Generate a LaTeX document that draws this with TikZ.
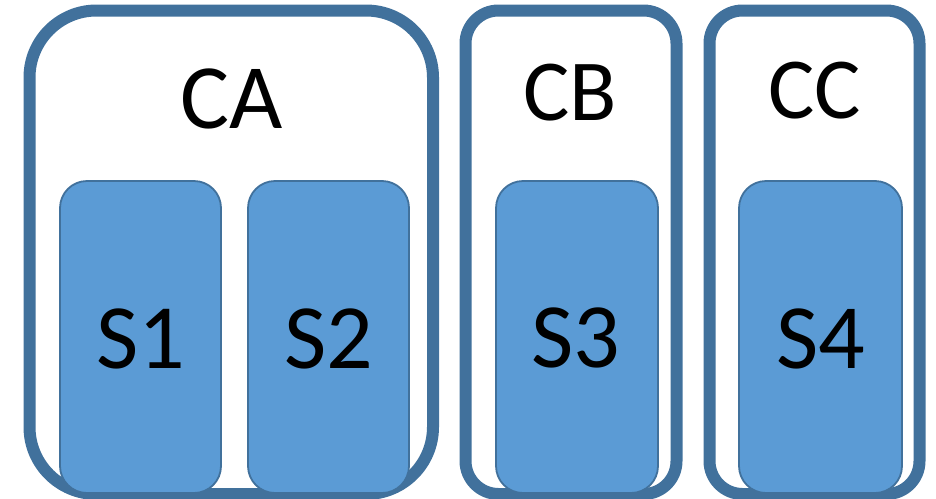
\documentclass[tikz,border=0pt]{standalone}
\usepackage{fontspec}
\setmainfont{Carlito}
\definecolor{edgeblue}{HTML}{41719C}
\definecolor{fillblue}{HTML}{5B9BD5}
\begin{document}
\begin{tikzpicture}[x=1pt,y=-1pt,
  container/.style={draw=edgeblue, line width=12pt, fill=white, rounded corners=#1,
    rectangle, inner sep=0pt, outer sep=0pt},
  slot/.style={draw=edgeblue, line width=1.8pt, fill=fillblue, rounded corners=27pt,
    rectangle, inner sep=0pt, outer sep=0pt, minimum width=#1, minimum height=312pt},
  biglabel/.style={inner sep=0pt, font=\fontsize{92}{92}\selectfont},
  midlabel/.style={inner sep=0pt, font=\fontsize{87}{87}\selectfont}]
  \useasboundingbox (0,0) rectangle (936,498);

  % outer containers
  \node[container=67pt, minimum width=403.5pt, minimum height=483.5pt] (ca) at (231.25,252.25) {};
  \node[container=33pt, minimum width=211pt, minimum height=483.5pt] (cb) at (571,252.25) {};
  \node[container=33pt, minimum width=210pt, minimum height=483.5pt] (cc) at (814.5,252.25) {};

  % container titles
  \node[biglabel] (calabel) at (232,99) {CA};
  \node[midlabel] (cblabel) at (570,92.5) {CB};
  \node[midlabel] (cclabel) at (815,91) {CC};

  % inner slots
  \node[slot=161pt] (s1) at (140.5,337) {};
  \node[slot=161pt] (s2) at (328.5,337) {};
  \node[slot=162pt] (s3) at (577,337) {};
  \node[slot=163pt] (s4) at (820.5,337) {};

  \node[biglabel] (s1label) at (140.5,339) {S1};
  \node[biglabel] (s2label) at (328.5,339) {S2};
  \node[biglabel] (s3label) at (576,338) {S3};
  \node[biglabel] (s4label) at (820.5,339) {S4};
\end{tikzpicture}
\end{document}
